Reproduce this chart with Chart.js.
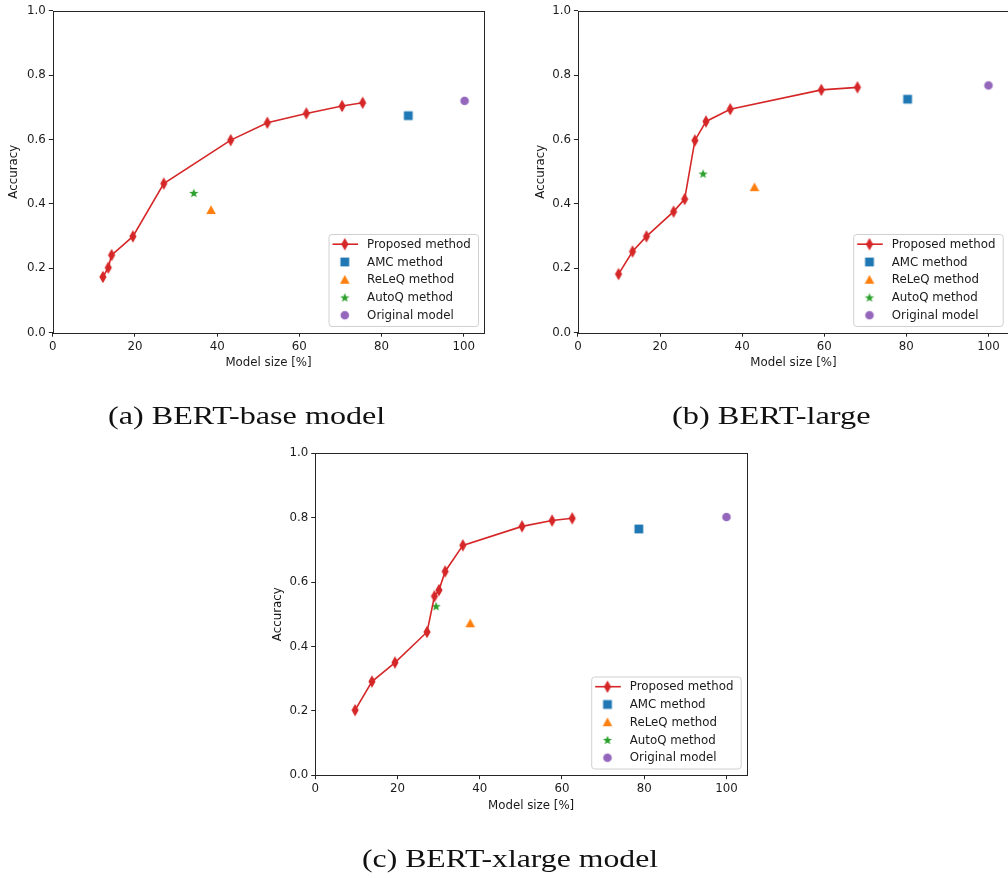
<!DOCTYPE html>
<html lang="en">
  <head>
    <meta charset="UTF-8" />
    <title>Accuracy vs model size</title>
    <script src="https://cdn.jsdelivr.net/npm/chart.js"></script>
    <style>
      html, body { margin: 0; padding: 0; background: #fff; }
      body { width: 1008px; height: 878px; overflow: hidden; position: relative; }
      canvas.plot { position: absolute; left: 0; top: 0; }
      .caption {
        position: absolute;
        font-family: "Liberation Serif", serif;
        font-size: 26px;
        line-height: 30px;
        color: #111;
        white-space: nowrap;
        transform-origin: 0 0;
      }
    </style>
  </head>
  <body>
    <canvas class="plot" id="chartA" width="1020" height="878"></canvas>
    <canvas class="plot" id="chartB" width="1020" height="878"></canvas>
    <canvas class="plot" id="chartC" width="1020" height="878"></canvas>

    <div class="caption" id="capA">(a) BERT-base model</div>
    <div class="caption" id="capB">(b) BERT-large</div>
    <div class="caption" id="capC">(c) BERT-xlarge model</div>

    <script>
      // legend names, same for all three plots
      const methodNames = ["Proposed method", "AMC method", "ReLeQ method", "AutoQ method", "Original model"];

      // (a) BERT-base
      const baseSize = [12.2, 13.5, 14.3, 19.5, 27.0, 43.3, 52.2, 61.7, 70.4, 75.4];
      const baseAcc = [0.173, 0.202, 0.241, 0.299, 0.463, 0.598, 0.652, 0.681, 0.704, 0.714];
      // AMC, ReLeQ, AutoQ, Original
      const baseOtherSize = [86.5, 38.5, 34.3, 100.2];
      const baseOtherAcc = [0.674, 0.381, 0.434, 0.720];

      // (b) BERT-large
      const largeSize = [9.9, 13.3, 16.7, 23.3, 26.0, 28.5, 31.2, 37.1, 59.3, 68.1];
      const largeAcc = [0.182, 0.252, 0.299, 0.376, 0.415, 0.597, 0.656, 0.694, 0.754, 0.762];
      const largeOtherSize = [80.3, 43.0, 30.5, 100.0];
      const largeOtherAcc = [0.725, 0.452, 0.494, 0.768];

      // (c) BERT-xlarge
      const xlargeSize = [9.7, 13.8, 19.4, 27.2, 29.0, 30.1, 31.6, 35.9, 50.3, 57.6, 62.5];
      const xlargeAcc = [0.202, 0.291, 0.350, 0.445, 0.556, 0.575, 0.633, 0.714, 0.773, 0.791, 0.798];
      const xlargeOtherSize = [78.7, 37.7, 29.4, 100.0];
      const xlargeOtherAcc = [0.765, 0.472, 0.525, 0.802];

      const xTicks = [0, 20, 40, 60, 80, 100];
      const yTicks = [0.0, 0.2, 0.4, 0.6, 0.8, 1.0];

      const RED = "#d62728";
      const colors = [RED, "#1f77b4", "#ff7f0e", "#2ca02c", "#9467bd"];

      // marker images (matplotlib style markers)
      function makeMarker(shape, color) {
        const c = document.createElement("canvas");
        c.width = 16;
        c.height = 16;
        const g = c.getContext("2d");
        g.fillStyle = color;
        g.beginPath();
        if (shape == "diamond") {
          g.moveTo(8, 1.8);
          g.lineTo(11.6, 8);
          g.lineTo(8, 14.2);
          g.lineTo(4.4, 8);
        } else if (shape == "square") {
          g.rect(3.6, 3.6, 8.8, 8.8);
        } else if (shape == "triangle") {
          g.moveTo(8, 3.3);
          g.lineTo(12.8, 12);
          g.lineTo(3.2, 12);
        } else if (shape == "star") {
          for (let i = 0; i < 10; i++) {
            const r = i % 2 == 0 ? 4.9 : 2.0;
            const a = -Math.PI / 2 + (i * Math.PI) / 5;
            const px = 8 + r * Math.cos(a);
            const py = 8.4 + r * Math.sin(a);
            if (i == 0) g.moveTo(px, py);
            else g.lineTo(px, py);
          }
        } else {
          g.arc(8, 8, 4.3, 0, Math.PI * 2);
        }
        g.closePath();
        g.fill();
        return c;
      }

      const markers = [
        makeMarker("diamond", colors[0]),
        makeMarker("square", colors[1]),
        makeMarker("triangle", colors[2]),
        makeMarker("star", colors[3]),
        makeMarker("circle", colors[4]),
      ];

      const FONT = { family: "DejaVu Sans", size: 11.8 };
      const INK = "#1a1a1a";

      // draws the four spines and the legend box in the lower right corner
      const frameLegend = {
        id: "frameLegend",
        afterDatasetsDraw(chart) {
          const ctx = chart.ctx;
          const a = chart.chartArea;
          ctx.save();
          ctx.strokeStyle = "#262626";
          ctx.lineWidth = 1;
          ctx.strokeRect(Math.round(a.left) + 0.5, Math.round(a.top) + 0.5,
            Math.round(a.right) - Math.round(a.left), Math.round(a.bottom) - Math.round(a.top));

          // legend
          const w = 149.5, h = 92;
          const bx = a.right - 6.3 - w;
          const by = a.bottom - 6.7 - h;
          ctx.beginPath();
          ctx.roundRect(bx + 0.5, by + 0.5, w, h, 3);
          ctx.fillStyle = "rgba(255,255,255,0.8)";
          ctx.fill();
          ctx.strokeStyle = "#d0d0d0";
          ctx.stroke();

          ctx.font = FONT.size + "px " + FONT.family;
          ctx.textBaseline = "middle";
          ctx.textAlign = "left";
          chart.data.datasets.forEach(function (ds, i) {
            const cy = by + 10.2 + i * 17.75;
            const mx = bx + 16.3;
            if (ds.showLine) {
              ctx.beginPath();
              ctx.moveTo(bx + 4, cy);
              ctx.lineTo(bx + 29.6, cy);
              ctx.strokeStyle = ds.borderColor;
              ctx.lineWidth = 1.6;
              ctx.stroke();
            }
            const m = ds.pointStyle;
            ctx.drawImage(m, mx - m.width / 2, cy - m.height / 2);
            ctx.fillStyle = INK;
            ctx.fillText(ds.label, bx + 38.6, cy + 0.5);
          });
          ctx.restore();
        },
      };

      function buildChart(id, sizes, accs, otherSizes, otherAccs, pad, yWidth) {
        const datasets = [
          {
            label: methodNames[0],
            data: sizes.map(function (s, i) { return { x: s, y: accs[i] }; }),
            showLine: true,
            borderColor: RED,
            borderWidth: 1.6,
            pointStyle: markers[0],
            pointRadius: 6,
          },
        ];
        for (let k = 0; k < otherSizes.length; k++) {
          datasets.push({
            label: methodNames[k + 1],
            data: [{ x: otherSizes[k], y: otherAccs[k] }],
            showLine: false,
            borderColor: colors[k + 1],
            pointStyle: markers[k + 1],
            pointRadius: 5,
          });
        }

        return new Chart(document.getElementById(id), {
          type: "scatter",
          data: { datasets: datasets },
          options: {
            responsive: false,
            animation: false,
            events: [],
            layout: { padding: pad },
            plugins: { legend: { display: false }, tooltip: { enabled: false } },
            scales: {
              x: {
                type: "linear",
                min: 0,
                max: 105,
                afterBuildTicks: function (s) { s.ticks = xTicks.map(function (v) { return { value: v }; }); },
                afterFit: function (s) { s.height = 41.7; },
                ticks: { font: FONT, color: INK, padding: 3, maxRotation: 0 },
                grid: { drawOnChartArea: false, tickLength: 4, tickColor: "#262626" },
                border: { display: false },
                title: { display: true, text: "Model size [%]", font: FONT, color: INK, padding: { top: 4, bottom: 4 } },
              },
              y: {
                type: "linear",
                min: 0,
                max: 1,
                afterBuildTicks: function (s) { s.ticks = yTicks.map(function (v) { return { value: v }; }); },
                afterFit: function (s) { s.width = yWidth; },
                ticks: { font: FONT, color: INK, padding: 3, callback: function (v) { return v.toFixed(1); } },
                grid: { drawOnChartArea: false, tickLength: 4, tickColor: "#262626" },
                border: { display: false },
                title: { display: true, text: "Accuracy", font: FONT, color: INK, padding: { top: 4, bottom: 4 } },
              },
            },
          },
          plugins: [frameLegend],
        });
      }

      // plot areas: (a) 52.8..484.3 x 10.7..332.7, (b) 577.9..1009 x 10.7..332.7, (c) 315.2..747 x 453.3..775.2
      buildChart("chartA", baseSize, baseAcc, baseOtherSize, baseOtherAcc,
        { left: 52.8 - 49.5, top: 10.7, right: 1020 - 484.3, bottom: 878 - 332.7 - 41.7 }, 49.5);
      buildChart("chartB", largeSize, largeAcc, largeOtherSize, largeOtherAcc,
        { left: 577.9 - 48.5, top: 10.7, right: 1020 - 1009, bottom: 878 - 332.7 - 41.7 }, 48.5);
      buildChart("chartC", xlargeSize, xlargeAcc, xlargeOtherSize, xlargeOtherAcc,
        { left: 315.2 - 48.5, top: 453.3, right: 1020 - 747, bottom: 878 - 775.2 - 41.7 }, 48.5);

      // captions: stretch to the measured width of the reference and center
      function placeCaption(id, centerX, width, top) {
        const el = document.getElementById(id);
        const w = el.offsetWidth;
        const k = width / w;
        el.style.left = (centerX - width / 2) + "px";
        el.style.top = top + "px";
        el.style.transform = "scaleX(" + k + ")";
      }
      placeCaption("capA", 246.7, 277, 400.8);
      placeCaption("capB", 770.8, 198, 400.8);
      placeCaption("capC", 510, 296.7, 843.8);
    </script>
  </body>
</html>
